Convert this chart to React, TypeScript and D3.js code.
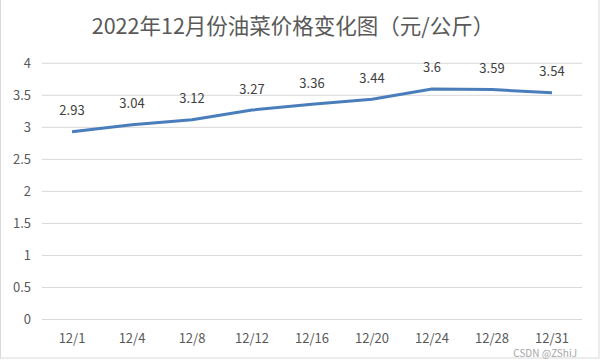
import { useEffect, useRef } from 'react';
import * as d3 from 'd3';

const dates = ['12/1', '12/4', '12/8', '12/12', '12/16', '12/20', '12/24', '12/28', '12/31'];
const prices = [2.93, 3.04, 3.12, 3.27, 3.36, 3.44, 3.6, 3.59, 3.54];
const yTicks = [0, 0.5, 1, 1.5, 2, 2.5, 3, 3.5, 4];
const title = '2022年12月份油菜价格变化图（元/公斤）';

const FONT = '"Noto Sans CJK SC", "Open Sans", sans-serif';

const App = () => {
  const svgRef = useRef<SVGSVGElement | null>(null);

  useEffect(() => {
    if (!svgRef.current) return;
    const width = 601;
    const height = 361;
    const svg = d3.select(svgRef.current);
    svg.selectAll('*').remove();

    // frame
    svg.append('rect')
      .attr('x', 0.5).attr('y', -1)
      .attr('width', 598.5).attr('height', 359)
      .attr('fill', '#fff')
      .attr('stroke', '#d9d9d9');

    const x = d3.scaleBand().domain(dates).range([42, 582]);
    const y = d3.scaleLinear().domain([0, 4]).range([319.5, 63.3]);

    // gridlines
    svg.append('g')
      .selectAll('line')
      .data(yTicks)
      .join('line')
      .attr('x1', 42).attr('x2', 582)
      .attr('y1', d => y(d)).attr('y2', d => y(d))
      .attr('stroke', '#d9d9d9')
      .attr('stroke-width', 1);

    // y labels
    svg.append('g')
      .selectAll('text')
      .data(yTicks)
      .join('text')
      .attr('x', 31)
      .attr('y', d => y(d))
      .attr('dy', '0.35em')
      .attr('text-anchor', 'end')
      .style('font', `13px ${FONT}`)
      .attr('fill', '#595959')
      .text(d => d3.format('')(d));

    // x labels
    svg.append('g')
      .selectAll('text')
      .data(dates)
      .join('text')
      .attr('x', d => x(d)! + x.bandwidth() / 2)
      .attr('y', 338)
      .attr('dy', '0.35em')
      .attr('text-anchor', 'middle')
      .style('font', `13px ${FONT}`)
      .attr('fill', '#595959')
      .text(d => d);

    const line = d3.line<number>()
      .x((_, i) => x(dates[i])! + x.bandwidth() / 2)
      .y(d => y(d));

    svg.append('path')
      .datum(prices)
      .attr('d', line)
      .attr('fill', 'none')
      .attr('stroke', '#4a7ebb')
      .attr('stroke-width', 3)
      .attr('stroke-linejoin', 'round');

    // data labels
    svg.append('g')
      .selectAll('text')
      .data(prices)
      .join('text')
      .attr('x', (_, i) => x(dates[i])! + x.bandwidth() / 2)
      .attr('y', d => y(d) - 21)
      .attr('dy', '0.35em')
      .attr('text-anchor', 'middle')
      .style('font', `13px ${FONT}`)
      .attr('fill', '#404040')
      .text(d => String(d));

    svg.append('text')
      .attr('x', 293)
      .attr('y', 26)
      .attr('dy', '0.35em')
      .attr('text-anchor', 'middle')
      .style('font', `21.5px ${FONT}`)
      .attr('fill', '#595959')
      .text(title);

    svg.append('text')
      .attr('x', 577)
      .attr('y', 357)
      .attr('text-anchor', 'end')
      .style('font', `10px ${FONT}`)
      .attr('fill', '#a6a6a6')
      .text('CSDN @ZShiJ');

    svg.attr('width', width).attr('height', height);
  }, []);

  return (
    <svg
      ref={svgRef}
      width={601}
      height={361}
      style={{ position: 'absolute', left: 0, top: 0, background: '#fff' }}
    />
  );
};

export default App;
